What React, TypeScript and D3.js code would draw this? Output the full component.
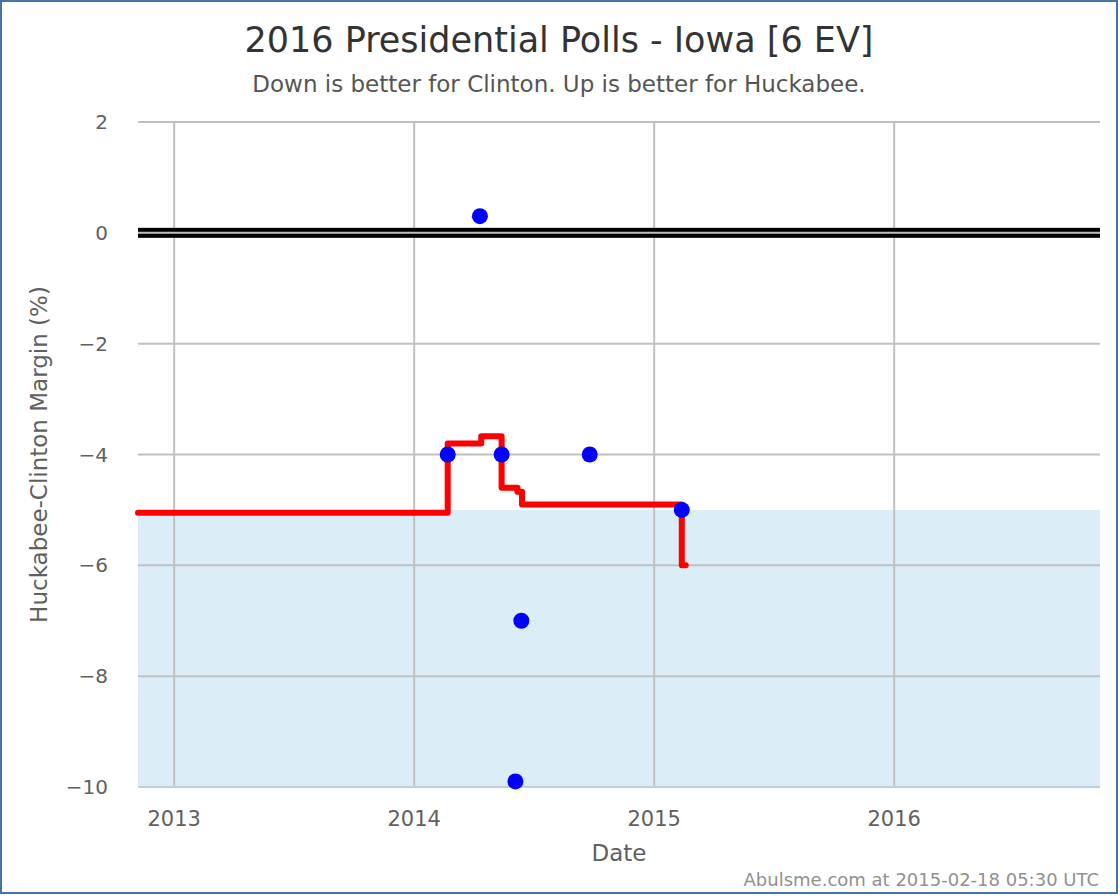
import React from "react";
import * as d3 from "d3";

const WIDTH = 1118;
const HEIGHT = 894;

const TITLE = "2016 Presidential Polls - Iowa [6 EV]";
const SUBTITLE = "Down is better for Clinton. Up is better for Huckabee.";
const Y_LABEL = "Huckabee-Clinton Margin (%)";
const X_LABEL = "Date";
const CREDIT = "Abulsme.com at 2015-02-18 05:30 UTC";

const X_DOMAIN = ["2012-11-07", "2016-11-09"];
const Y_DOMAIN = [-10, 2];
const X_TICKS = ["2013-01-01", "2014-01-01", "2015-01-01", "2016-01-01"];
const Y_TICKS = [-10, -8, -6, -4, -2, 0, 2];

const POLL_DATES = ["2014-02-21", "2014-04-11", "2014-05-14", "2014-06-04", "2014-06-13", "2014-09-25", "2015-02-12"];
const POLL_VALUES = [-4, 0.3, -4, -9.9, -7, -4, -5];

const AVG_DATES = ["2012-11-07", "2014-02-21", "2014-04-13", "2014-05-14", "2014-06-07", "2014-06-14", "2015-02-12", "2015-02-18"];
const AVG_VALUES = [-5.05, -3.8, -3.67, -4.6, -4.67, -4.9, -6.0, -6.0];

const SHADE_FROM = -5;

const parse = (s: string) => new Date(s + "T00:00:00Z");

export default function App() {
  React.useEffect(() => {
    document.body.style.margin = "0";
  }, []);

  const left = 138, right = 1100, top = 122, bottom = 787;
  const x = d3.scaleUtc().domain(X_DOMAIN.map(parse)).range([left, right]);
  const y = d3.scaleLinear().domain(Y_DOMAIN).range([bottom, top]);

  const avg = AVG_DATES.map((d, i) => ({ d: parse(d), v: AVG_VALUES[i] }));
  const line = d3
    .line<{ d: Date; v: number }>()
    .x((p) => x(p.d))
    .y((p) => y(p.v))
    .curve(d3.curveStepAfter);

  const font = "'DejaVu Sans', sans-serif";

  return (
    <svg width={WIDTH} height={HEIGHT} style={{ display: "block", fontFamily: font }}>
      <rect x={0} y={0} width={WIDTH} height={HEIGHT} fill="#ffffff" />
      {/* shaded region */}
      <rect x={left} y={y(SHADE_FROM)} width={right - left} height={y(Y_DOMAIN[0]) - y(SHADE_FROM)} fill="#dbedf6" />
      {/* grid */}
      {Y_TICKS.map((t) => (
        <line key={"gy" + t} x1={left} x2={right} y1={y(t)} y2={y(t)} stroke="#c0c0c0" strokeWidth={2} />
      ))}
      {X_TICKS.map((t) => (
        <line key={"gx" + t} x1={x(parse(t))} x2={x(parse(t))} y1={top} y2={bottom} stroke="#c0c0c0" strokeWidth={2} />
      ))}
      {/* zero line */}
      <rect x={left} y={y(0) - 5} width={right - left} height={10} fill="#000000" />
      <line x1={left} x2={right} y1={y(0)} y2={y(0)} stroke="#c0c0c0" strokeWidth={2} />
      {/* x axis line */}
      <line x1={left} x2={right} y1={bottom} y2={bottom} stroke="#c0d0e0" strokeWidth={2} />
      {/* average line */}
      <path d={line(avg) || ""} fill="none" stroke="#ff0000" strokeWidth={6} strokeLinejoin="round" strokeLinecap="round" />
      {/* polls */}
      {POLL_DATES.map((d, i) => (
        <circle key={"p" + i} cx={x(parse(d))} cy={y(POLL_VALUES[i])} r={8} fill="#0000ff" />
      ))}
      {/* y tick labels */}
      {Y_TICKS.map((t) => (
        <text key={"ty" + t} x={108} y={y(t) + 7} textAnchor="end" fontSize={20} fill="#606060">
          {t < 0 ? "\u2212" + Math.abs(t) : String(t)}
        </text>
      ))}
      {/* x tick labels */}
      {X_TICKS.map((t) => (
        <text key={"tx" + t} x={x(parse(t))} y={826} textAnchor="middle" fontSize={21} fill="#606060">
          {t.slice(0, 4)}
        </text>
      ))}
      <text x={(left + right) / 2} y={861} textAnchor="middle" fontSize={23} fill="#606060">
        {X_LABEL}
      </text>
      <text transform={`translate(47,${(top + bottom) / 2}) rotate(-90)`} textAnchor="middle" fontSize={23} fill="#606060">
        {Y_LABEL}
      </text>
      <text x={559} y={52} textAnchor="middle" fontSize={35} fill="#333333">
        {TITLE}
      </text>
      <text x={559} y={92} textAnchor="middle" fontSize={23} fill="#555555">
        {SUBTITLE}
      </text>
      <text x={1099} y={886} textAnchor="end" fontSize={18} fill="#909090">
        {CREDIT}
      </text>
      <rect x={1} y={1} width={WIDTH - 2} height={HEIGHT - 2} fill="none" stroke="#4572a7" strokeWidth={2} />
    </svg>
  );
}
